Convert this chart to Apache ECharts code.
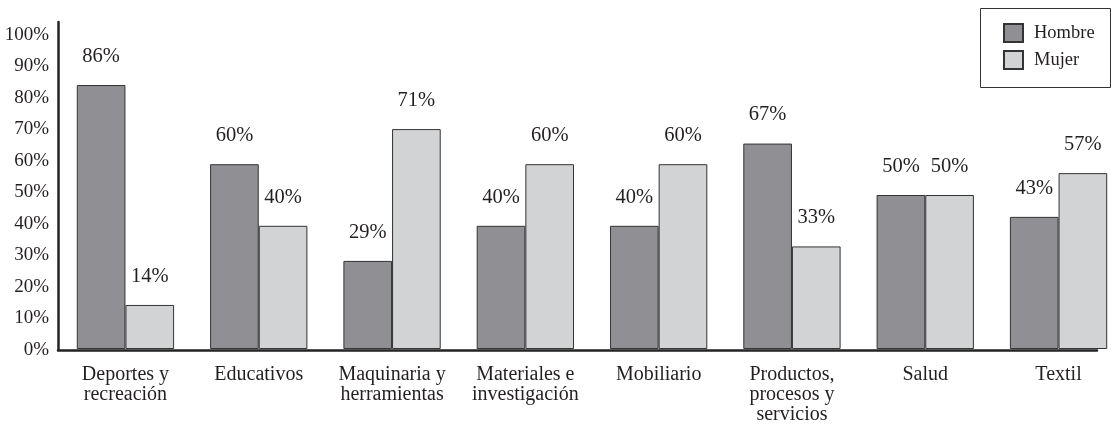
<!DOCTYPE html>
<html>
<head>
<meta charset="utf-8">
<script src="https://cdn.jsdelivr.net/npm/echarts@6/dist/echarts.min.js"></script>
<style>html,body{margin:0;padding:0;background:#fff;}#c{width:1111px;height:424px;}</style>
</head>
<body>
<div id="c"></div>
<script>
const categories = ['Deportes y\nrecreación', 'Educativos', 'Maquinaria y\nherramientas', 'Materiales e\ninvestigación', 'Mobiliario', 'Productos,\nprocesos y\nservicios', 'Salud', 'Textil'];
const hombre = [85.7, 60, 28.6, 40, 40, 66.7, 50, 42.9];
const mujer = [14.3, 40, 71.4, 60, 60, 33.3, 50, 57.1];
const yTicks = [0, 10, 20, 30, 40, 50, 60, 70, 80, 90, 100];

const FONT = "'Liberation Serif', 'DejaVu Serif', serif";
const TXT = '#231f20';

const chart = echarts.init(document.getElementById('c'), null, {renderer: 'canvas'});
chart.setOption({
  animation: false,
  backgroundColor: '#fff',
  textStyle: {fontFamily: FONT, color: TXT},
  graphic: [{
    type: 'rect', z: 0,
    shape: {x: 980.5, y: 8.5, width: 130, height: 79},
    style: {fill: '#fff', stroke: '#333', lineWidth: 1}
  }],
  legend: {
    orient: 'vertical',
    left: 1003, top: 23, padding: 0,
    itemWidth: 19, itemHeight: 18, itemGap: 7,
    icon: 'rect',
    textStyle: {fontFamily: FONT, fontSize: 18.5, color: TXT, padding: [0, 0, 0, 6]},
    data: ['Hombre', 'Mujer']
  },
  grid: [
    {left: 58.8, width: 1066.4, top: 41, height: 308, outerBoundsMode: 'none', containLabel: false},
    {left: 58, width: 1039, top: 22, height: 328, outerBoundsMode: 'none', containLabel: false}
  ],
  xAxis: [
    {
      type: 'category', gridIndex: 0, data: categories,
      axisLine: {show: false}, axisTick: {show: false},
      axisLabel: {fontFamily: FONT, fontSize: 20, lineHeight: 20, color: TXT, margin: 16, interval: 0}
    },
    {
      type: 'category', gridIndex: 1, data: categories,
      axisLine: {show: true, lineStyle: {color: '#222', width: 2.5}},
      axisTick: {show: false}, axisLabel: {show: false}
    }
  ],
  yAxis: [
    {type: 'value', gridIndex: 0, min: 0, max: 100, show: false, splitLine: {show: false}},
    {
      type: 'value', gridIndex: 1, min: 0, max: 104.13, interval: 10,
      axisLine: {show: true, lineStyle: {color: '#222', width: 2.5}},
      axisTick: {show: false}, splitLine: {show: false},
      axisLabel: {
        fontFamily: FONT, fontSize: 19, color: TXT, margin: 9, showMaxLabel: false,
        formatter: function (v) { return yTicks.indexOf(v) >= 0 ? v + '%' : ''; }
      }
    }
  ],
  series: [
    {
      name: 'Hombre', type: 'bar', xAxisIndex: 0, yAxisIndex: 0,
      data: hombre, barWidth: '36.5%', barGap: '0%',
      itemStyle: {color: '#909094', borderColor: '#333', borderWidth: 1},
      label: {show: true, position: 'top', distance: 18, fontFamily: FONT, fontSize: 20.5, color: TXT,
        formatter: function (p) { return Math.round(p.value) + '%'; }}
    },
    {
      name: 'Mujer', type: 'bar', xAxisIndex: 0, yAxisIndex: 0,
      data: mujer, barWidth: '36.5%', barGap: '0%',
      itemStyle: {color: '#d2d3d5', borderColor: '#333', borderWidth: 1},
      label: {show: true, position: 'top', distance: 18, fontFamily: FONT, fontSize: 20.5, color: TXT,
        formatter: function (p) { return Math.round(p.value) + '%'; }}
    }
  ]
});
</script>
</body>
</html>
